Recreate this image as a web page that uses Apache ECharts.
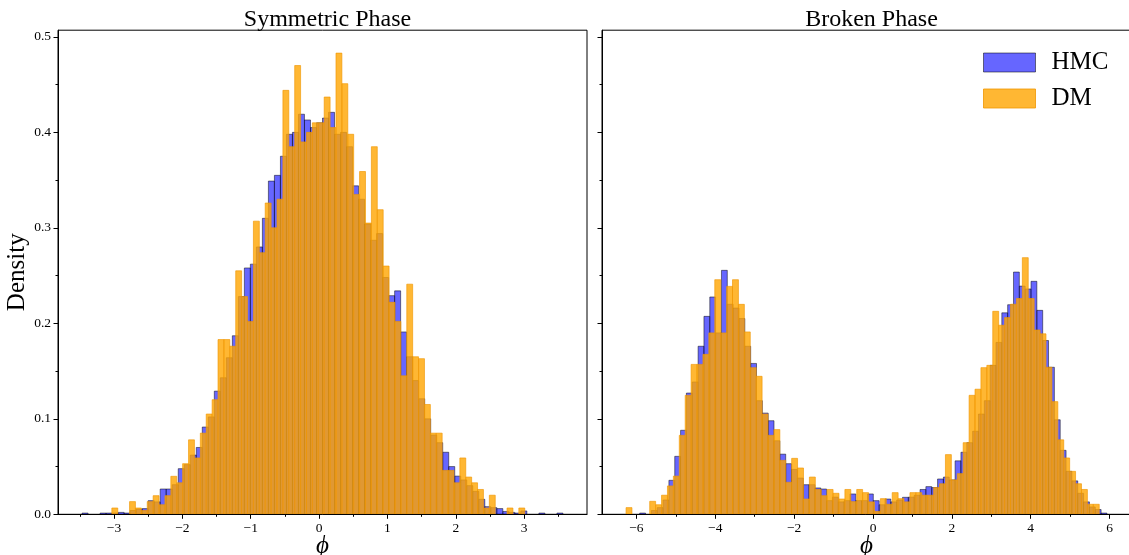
<!DOCTYPE html>
<html>
<head>
<meta charset="utf-8">
<script src="https://cdn.jsdelivr.net/npm/echarts@6/dist/echarts.min.js"></script>
<style>
  html, body { margin: 0; padding: 0; background: #ffffff; }
  #chart { width: 1129px; height: 555px; }
</style>
</head>
<body>
<div id="chart"></div>
<script>
// ---- Histogram data: first bin edge, bin width, density per bin ----
const symHmcStart = -3.468, symHmcWidth = 0.08795;
const symHmc = [
  0.0013, 0, 0, 0.0013, 0.0013, 0.0013, 0.002, 0.0013, 0.004, 0.0055,
  0.006, 0.0143, 0.013, 0.0265, 0.0265, 0.031, 0.0478, 0.052, 0.062, 0.070,
  0.0914, 0.102, 0.129, 0.143, 0.164, 0.187, 0.228, 0.258, 0.262, 0.280,
  0.310, 0.349, 0.355, 0.375, 0.398, 0.400, 0.419, 0.413, 0.405, 0.410,
  0.415, 0.421, 0.398, 0.400, 0.385, 0.344, 0.330, 0.304, 0.287, 0.294,
  0.248, 0.229, 0.234, 0.191, 0.165, 0.140, 0.121, 0.100, 0.083, 0.075,
  0.065, 0.050, 0.040, 0.036, 0.030, 0.024, 0.0157, 0.008, 0.007, 0.006,
  0.003, 0.002, 0.0013, 0.0035, 0, 0, 0.0013, 0, 0, 0.0013
];

const symDmStart = -3.032, symDmWidth = 0.0863;
const symDm = [
  0.0066, 0, 0, 0.0133, 0.0066, 0.004, 0.0133, 0.0195, 0.010, 0.0195,
  0.0398, 0.033, 0.053, 0.078, 0.059, 0.085, 0.105, 0.120, 0.183, 0.183,
  0.176, 0.255, 0.228, 0.202, 0.307, 0.274, 0.326, 0.300, 0.330, 0.444,
  0.385, 0.470, 0.390, 0.400, 0.410, 0.410, 0.437, 0.405, 0.483, 0.451,
  0.398, 0.335, 0.359, 0.305, 0.385, 0.319, 0.260, 0.222, 0.202, 0.145,
  0.241, 0.165, 0.163, 0.115, 0.085, 0.085, 0.046, 0.046, 0.033, 0.059,
  0.039, 0.033, 0.026, 0.0066, 0.020, 0, 0, 0.0066, 0, 0.0066
];

const brkHmcStart = -5.917, brkHmcWidth = 0.148125;
const brkHmc = [
  0.0013, 0, 0.004, 0.007, 0.015, 0.0356, 0.0607, 0.088, 0.127, 0.1386,
  0.176, 0.2073, 0.2276, 0.190, 0.2555, 0.220, 0.216, 0.205, 0.176, 0.158,
  0.119, 0.106, 0.098, 0.077, 0.063, 0.053, 0.047, 0.038, 0.031, 0.031,
  0.0276, 0.0265, 0.0143, 0.018, 0.013, 0.0143, 0.0213, 0.0143, 0.0143, 0.0213,
  0.0143, 0.010, 0.016, 0.013, 0.015, 0.0178, 0.018, 0.020, 0.026, 0.029,
  0.028, 0.037, 0.039, 0.036, 0.056, 0.065, 0.075, 0.087, 0.105, 0.119,
  0.156, 0.180, 0.211, 0.2195, 0.2537, 0.239, 0.236, 0.244, 0.2136, 0.182,
  0.154, 0.099, 0.067, 0.045, 0.035, 0.022, 0.013, 0.0077, 0.005, 0.0013
];

const brkDmStart = -6.263, brkDmWidth = 0.15;
const brkDm = [
  0.007, 0, 0, 0, 0.0136, 0.010, 0.020, 0.0297, 0.040, 0.0827,
  0.1246, 0.157, 0.157, 0.1675, 0.190, 0.2457, 0.190, 0.2387, 0.2457, 0.2199,
  0.191, 0.1536, 0.1445, 0.105, 0.0827, 0.0887, 0.0565, 0.0335, 0.0586, 0.0485,
  0.016, 0.039, 0.026, 0.0195, 0.026, 0.022, 0.016, 0.026, 0.0133, 0.026,
  0.0227, 0.013, 0.003, 0.0164, 0.0105, 0.0227, 0.0164, 0.013, 0.0227, 0.0227,
  0.020, 0.020, 0.028, 0.032, 0.0625, 0.036, 0.0426, 0.075, 0.1246, 0.131,
  0.1536, 0.156, 0.2126, 0.198, 0.206, 0.220, 0.226, 0.2688, 0.226, 0.193,
  0.189, 0.154, 0.118, 0.078, 0.059, 0.045, 0.032, 0.026, 0.0105, 0.0105
];

// ---- Tick positions ----
const symMajorTicks = [-3, -2, -1, 0, 1, 2, 3];
const symMinorTicks = [-3.5, -2.5, -1.5, -0.5, 0.5, 1.5, 2.5, 3.5];
const brkMajorTicks = [-6, -4, -2, 0, 2, 4, 6];
const brkMinorTicks = [-5, -3, -1, 1, 3, 5];
const yMajorTicks = [0, 0.1, 0.2, 0.3, 0.4, 0.5];
const yMinorTicks = [0.05, 0.15, 0.25, 0.35, 0.45];

const panelTitles = ['Symmetric Phase', 'Broken Phase'];
const seriesNames = ['HMC', 'DM'];

// ---- Rendering ----
const SERIF = "'Liberation Serif', 'DejaVu Serif', serif";
const HMC_FILL = 'rgba(0,0,255,0.6)';
const HMC_EDGE = 'rgba(0,0,0,0.6)';
const DM_FILL = 'rgba(255,165,0,0.8)';
const DM_EDGE = 'rgba(240,150,0,0.8)';

function toBins(start, width, heights) {
  const out = [];
  heights.forEach((h, i) => {
    if (h > 0) out.push([start + i * width, start + (i + 1) * width, h]);
  });
  return out;
}

function barRenderer(fill, stroke) {
  return function (params, api) {
    const topLeft = api.coord([api.value(0), api.value(2)]);
    const bottomRight = api.coord([api.value(1), 0]);
    return {
      type: 'rect',
      shape: {
        x: topLeft[0],
        y: topLeft[1],
        width: bottomRight[0] - topLeft[0],
        height: bottomRight[1] - topLeft[1]
      },
      style: { fill: fill, stroke: stroke, lineWidth: 0.8 }
    };
  };
}

const fmtMinus = v => (v < 0 ? '\u2212' + Math.abs(v) : String(v));

const gridTop = 30.2, gridHeight = 484.1;
const Y_MAX = 0.507;

function mainX(gridIndex, min, max, ticks) {
  return {
    type: 'value', gridIndex, min, max, z: 5,
    axisLine: { show: true, onZero: false, lineStyle: { color: '#000', width: 1 } },
    axisTick: { show: true, length: 4.5, customValues: ticks, lineStyle: { color: '#000', width: 1 } },
    axisLabel: { customValues: ticks, formatter: fmtMinus, margin: 7, fontSize: 13.5, color: '#000', fontFamily: SERIF },
    splitLine: { show: false },
    name: '\u03D5', nameLocation: 'middle', nameGap: 20, nameMoveOverlap: false,
    nameTextStyle: { fontSize: 25, fontStyle: 'italic', color: '#000', fontFamily: SERIF }
  };
}
function minorX(gridIndex, min, max, ticks) {
  return {
    type: 'value', gridIndex, min, max, position: 'bottom', z: 5,
    axisLine: { show: false, onZero: false },
    axisTick: { show: true, length: 2.5, customValues: ticks, lineStyle: { color: '#000', width: 1 } },
    axisLabel: { show: false },
    splitLine: { show: false }
  };
}
function mainY(gridIndex, showLabels) {
  const ax = {
    type: 'value', gridIndex, min: 0, max: Y_MAX, position: 'left', z: 5,
    axisLine: { show: true, onZero: false, lineStyle: { color: '#000', width: 1 } },
    axisTick: { show: true, length: 4.5, customValues: yMajorTicks, lineStyle: { color: '#000', width: 1 } },
    axisLabel: { show: showLabels, customValues: yMajorTicks, formatter: v => v.toFixed(1), margin: 7, fontSize: 13.5, color: '#000', fontFamily: SERIF },
    splitLine: { show: false }
  };
  if (showLabels) {
    Object.assign(ax, {
      name: 'Density', nameLocation: 'middle', nameGap: 26, nameRotate: 90,
      nameTextStyle: { fontSize: 25, color: '#000', fontFamily: SERIF }
    });
  }
  return ax;
}
function minorY(gridIndex) {
  return {
    type: 'value', gridIndex, min: 0, max: Y_MAX, position: 'left', z: 5,
    axisLine: { show: false, onZero: false },
    axisTick: { show: true, length: 2.5, customValues: yMinorTicks, lineStyle: { color: '#000', width: 1 } },
    axisLabel: { show: false },
    splitLine: { show: false }
  };
}

function histSeries(name, axisIndex, start, width, values, fill, stroke) {
  return {
    type: 'custom', name, xAxisIndex: axisIndex, yAxisIndex: axisIndex,
    data: toBins(start, width, values),
    encode: { x: [0, 1], y: 2 },
    renderItem: barRenderer(fill, stroke),
    itemStyle: { color: fill, borderColor: stroke },
    silent: true
  };
}

const gridBase = {
  top: gridTop, height: gridHeight, width: 529, show: true,
  borderColor: '#000', borderWidth: 1, backgroundColor: 'transparent',
  containLabel: false, outerBoundsMode: 'none'
};

const chart = echarts.init(document.getElementById('chart'), null, { renderer: 'canvas' });
chart.setOption({
  animation: false,
  backgroundColor: '#ffffff',
  title: [
    { text: panelTitles[0], left: 322.5, top: 3, textAlign: 'center',
      textStyle: { fontSize: 24, fontWeight: 'normal', color: '#000', fontFamily: SERIF } },
    { text: panelTitles[1], left: 866.5, top: 3, textAlign: 'center',
      textStyle: { fontSize: 24, fontWeight: 'normal', color: '#000', fontFamily: SERIF } }
  ],
  legend: {
    orient: 'vertical', left: 978, top: 45, selectedMode: false,
    itemWidth: 52, itemHeight: 19, itemGap: 11, icon: 'rect',
    textStyle: { fontSize: 25, color: '#000', fontFamily: SERIF, padding: [0, 0, 0, 11] },
    data: [
      { name: seriesNames[0], itemStyle: { color: HMC_FILL, borderColor: 'rgba(0,0,0,0.5)', borderWidth: 1 } },
      { name: seriesNames[1], itemStyle: { color: DM_FILL, borderColor: DM_EDGE, borderWidth: 1 } }
    ]
  },
  grid: [
    Object.assign({ left: 58 }, gridBase),
    Object.assign({ left: 602 }, gridBase)
  ],
  xAxis: [
    mainX(0, -3.82, 3.92, symMajorTicks),
    mainX(1, -6.873, 6.543, brkMajorTicks),
    minorX(0, -3.82, 3.92, symMinorTicks),
    minorX(1, -6.873, 6.543, brkMinorTicks)
  ],
  yAxis: [
    mainY(0, true),
    mainY(1, false),
    minorY(0),
    minorY(1)
  ],
  series: [
    histSeries(seriesNames[0], 0, symHmcStart, symHmcWidth, symHmc, HMC_FILL, HMC_EDGE),
    histSeries(seriesNames[1], 0, symDmStart, symDmWidth, symDm, DM_FILL, DM_EDGE),
    histSeries(seriesNames[0], 1, brkHmcStart, brkHmcWidth, brkHmc, HMC_FILL, HMC_EDGE),
    histSeries(seriesNames[1], 1, brkDmStart, brkDmWidth, brkDm, DM_FILL, DM_EDGE)
  ]
});
</script>
</body>
</html>
